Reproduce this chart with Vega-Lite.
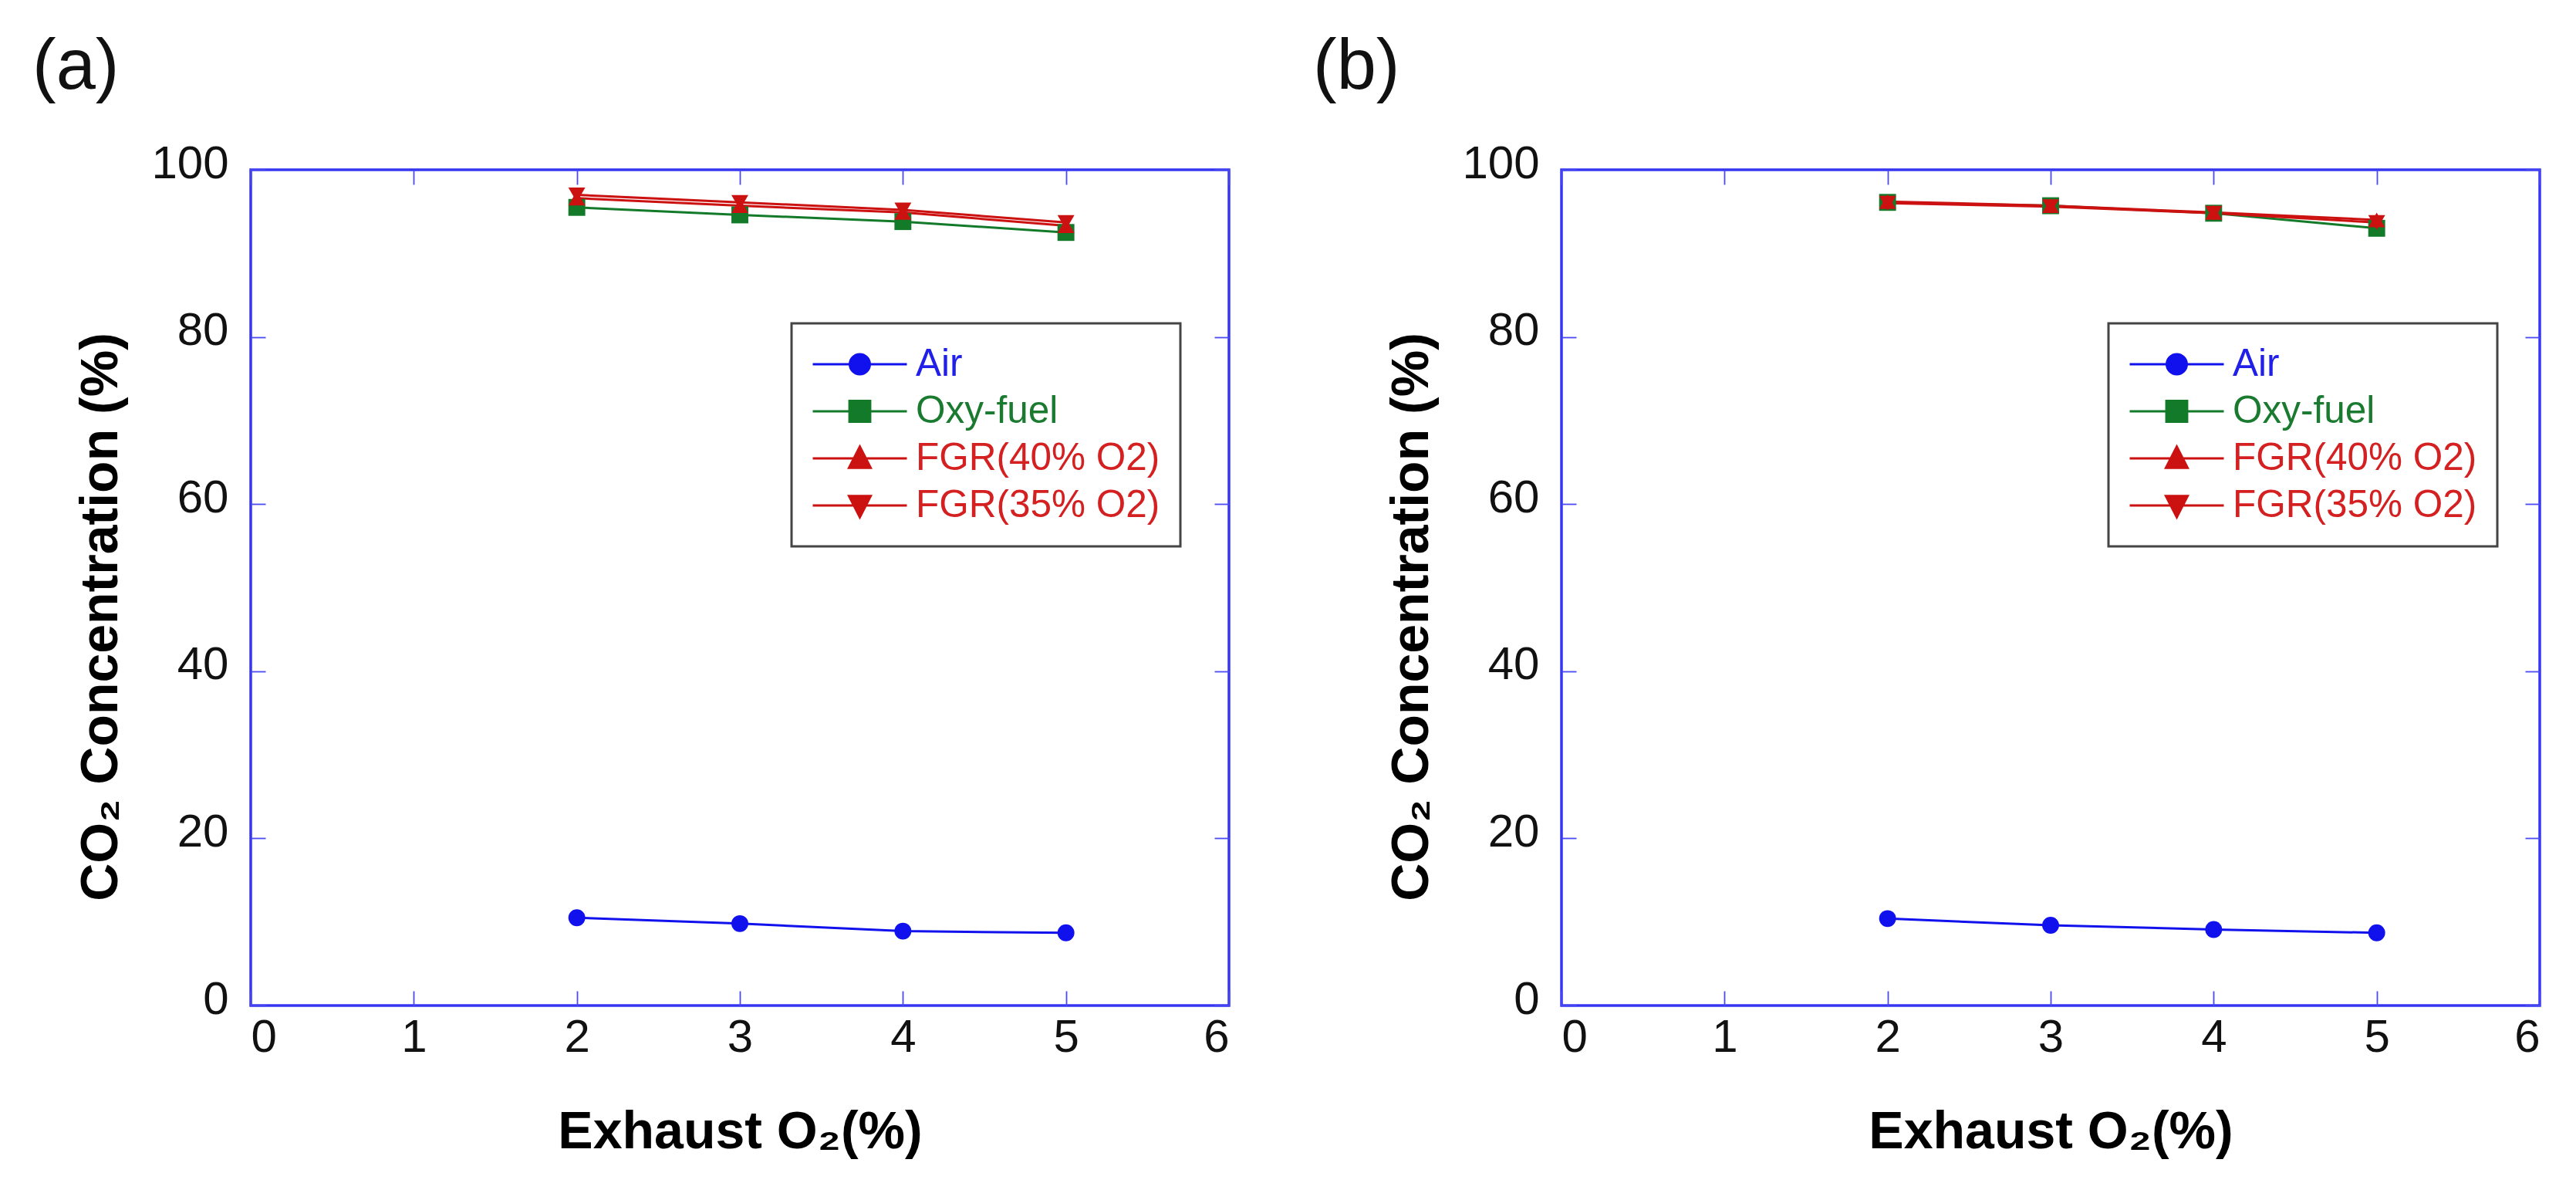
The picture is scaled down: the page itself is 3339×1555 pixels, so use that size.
{
  "$schema": "https://vega.github.io/schema/vega-lite/v6.json",
  "padding": {"left": 40, "top": 39, "right": 0, "bottom": 0},
  "config": {
    "font": "Liberation Sans",
    "view": {"stroke": "#3636f2", "strokeWidth": 3.5},
    "axis": {
      "grid": false,
      "domain": false,
      "tickColor": "#4a4af2",
      "tickWidth": 1.8,
      "tickSize": -19,
      "labelFont": "Liberation Sans",
      "labelFontSize": 60,
      "labelColor": "#111111",
      "titleFont": "Liberation Sans",
      "titleFontSize": 68,
      "titleFontWeight": "bold",
      "titleColor": "#000000"
    },
    "title": {"fontSize": 92, "fontWeight": "normal", "color": "#111111", "anchor": "start", "frame": "group"},
    "point": {"filled": true, "size": 480, "opacity": 1},
    "legend": {
      "orient": "none",
      "title": null,
      "strokeColor": "#444444",
      "strokeWidth": 3,
      "padding": 26,
      "labelFont": "Liberation Sans",
      "labelFontSize": 49.5,
      "labelLimit": 0,
      "labelOffset": 10,
      "rowPadding": 7,
      "clipHeight": 54,
      "symbolSize": 14884,
      "symbolStrokeWidth": 3
    }
  },
  "datasets": {
    "a": [
      {"series": "Air", "o2": 2, "co2": 10.5},
      {"series": "Air", "o2": 3, "co2": 9.8},
      {"series": "Air", "o2": 4, "co2": 8.9},
      {"series": "Air", "o2": 5, "co2": 8.7},
      {"series": "Oxy-fuel", "o2": 2, "co2": 95.5},
      {"series": "Oxy-fuel", "o2": 3, "co2": 94.6},
      {"series": "Oxy-fuel", "o2": 4, "co2": 93.8},
      {"series": "Oxy-fuel", "o2": 5, "co2": 92.5},
      {"series": "FGR(40% O2)", "o2": 2, "co2": 96.6},
      {"series": "FGR(40% O2)", "o2": 3, "co2": 95.7},
      {"series": "FGR(40% O2)", "o2": 4, "co2": 94.9},
      {"series": "FGR(40% O2)", "o2": 5, "co2": 93.3},
      {"series": "FGR(35% O2)", "o2": 2, "co2": 97.0},
      {"series": "FGR(35% O2)", "o2": 3, "co2": 96.1},
      {"series": "FGR(35% O2)", "o2": 4, "co2": 95.2},
      {"series": "FGR(35% O2)", "o2": 5, "co2": 93.7}
    ],
    "b": [
      {"series": "Air", "o2": 2, "co2": 10.4},
      {"series": "Air", "o2": 3, "co2": 9.6},
      {"series": "Air", "o2": 4, "co2": 9.1},
      {"series": "Air", "o2": 5, "co2": 8.7},
      {"series": "Oxy-fuel", "o2": 2, "co2": 96.1},
      {"series": "Oxy-fuel", "o2": 3, "co2": 95.7},
      {"series": "Oxy-fuel", "o2": 4, "co2": 94.8},
      {"series": "Oxy-fuel", "o2": 5, "co2": 93.0},
      {"series": "FGR(40% O2)", "o2": 2, "co2": 96.2},
      {"series": "FGR(40% O2)", "o2": 3, "co2": 95.7},
      {"series": "FGR(40% O2)", "o2": 4, "co2": 94.9},
      {"series": "FGR(40% O2)", "o2": 5, "co2": 94.0},
      {"series": "FGR(35% O2)", "o2": 2, "co2": 96.0},
      {"series": "FGR(35% O2)", "o2": 3, "co2": 95.6},
      {"series": "FGR(35% O2)", "o2": 4, "co2": 94.8},
      {"series": "FGR(35% O2)", "o2": 5, "co2": 93.7}
    ]
  },
  "spacing": 104,
  "resolve": {"legend": {"color": "independent", "shape": "independent"}},
  "hconcat": [
    {
      "title": {"text": "(a)", "dx": -283, "offset": 48},
      "width": 1268,
      "height": 1083,
      "data": {"name": "a"},
      "resolve": {"axis": {"x": "independent", "y": "independent"}},
      "layer": [
        {
          "mark": {"type": "line", "strokeWidth": 3},
          "encoding": {
            "x": {"field": "o2", "type": "quantitative", "scale": {"domain": [0, 6]},
              "axis": {"orient": "bottom", "values": [0, 1, 2, 3, 4, 5, 6], "title": "Exhaust O₂(%)", "labelPadding": 31, "titlePadding": 59}},
            "y": {"field": "co2", "type": "quantitative", "scale": {"domain": [0, 100]},
              "axis": {"orient": "left", "values": [0, 20, 40, 60, 80, 100], "title": "CO₂ Concentration (%)", "labelPadding": 48, "labelOffset": -8, "titleX": -160, "titleY": 579}},
            "color": {"field": "series", "type": "nominal",
              "scale": {"domain": ["Air", "Oxy-fuel", "FGR(40% O2)", "FGR(35% O2)"], "range": ["#1111ee", "#137a2a", "#cc1111", "#cc1111"]},
              "legend": {
                "legendX": 701, "legendY": 199,
                "encode": {
                  "symbols": {"update": {
                    "stroke": {"signal": "datum.value === 'Air' ? '#2a2af0' : datum.value === 'Oxy-fuel' ? '#2e8040' : '#d42020'"},
                    "strokeWidth": {"value": 3},
                    "opacity": {"value": 1}
                  }},
                  "labels": {"update": {"fill": {"signal": "datum.value === 'Air' ? '#2020e8' : datum.value === 'Oxy-fuel' ? '#1a7a30' : '#d42020'"}}}
                }
              }}
          }
        },
        {
          "transform": [{"filter": "datum.series === 'Air'"}],
          "mark": {"type": "point", "shape": "circle"},
          "encoding": {
            "x": {"field": "o2", "type": "quantitative", "axis": {"orient": "top", "values": [0, 1, 2, 3, 4, 5, 6], "labels": false, "title": null}},
            "y": {"field": "co2", "type": "quantitative", "axis": {"orient": "right", "values": [0, 20, 40, 60, 80, 100], "labels": false, "title": null}},
            "color": {"field": "series", "type": "nominal"}
          }
        },
        {
          "transform": [{"filter": "datum.series === 'Oxy-fuel'"}],
          "mark": {"type": "point", "shape": "square"},
          "encoding": {
            "x": {"field": "o2", "type": "quantitative", "axis": null},
            "y": {"field": "co2", "type": "quantitative", "axis": null},
            "color": {"field": "series", "type": "nominal"}
          }
        },
        {
          "transform": [{"filter": "datum.series === 'FGR(40% O2)'"}],
          "mark": {"type": "point", "shape": "triangle-up"},
          "encoding": {
            "x": {"field": "o2", "type": "quantitative", "axis": null},
            "y": {"field": "co2", "type": "quantitative", "axis": null},
            "color": {"field": "series", "type": "nominal"}
          }
        },
        {
          "transform": [{"filter": "datum.series === 'FGR(35% O2)'"}],
          "mark": {"type": "point", "shape": "triangle-down"},
          "encoding": {
            "x": {"field": "o2", "type": "quantitative", "axis": null},
            "y": {"field": "co2", "type": "quantitative", "axis": null},
            "color": {"field": "series", "type": "nominal"}
          }
        },
        {
          "transform": [{"filter": "datum.o2 > 100"}],
          "mark": {"type": "point"},
          "encoding": {
            "x": {"field": "o2", "type": "quantitative", "axis": null},
            "y": {"field": "co2", "type": "quantitative", "axis": null},
            "color": {"field": "series", "type": "nominal"},
            "shape": {"field": "series", "type": "nominal",
              "scale": {"domain": ["Air", "Oxy-fuel", "FGR(40% O2)", "FGR(35% O2)"],
                "range": ["M-1,0H1M-0.213,0A0.213,0.213 0 1,0 0.213,0A0.213,0.213 0 1,0 -0.213,0Z", "M-1,0H1M-0.22,-0.22H0.22V0.22H-0.22Z", "M-1,0H1M0,-0.25L0.23,0.2H-0.23Z", "M-1,0H1M0,0.25L0.23,-0.2H-0.23Z"]}}
          }
        }
      ]
    },
    {
      "title": {"text": "(b)", "dx": -322, "offset": 48},
      "width": 1268,
      "height": 1083,
      "data": {"name": "b"},
      "resolve": {"axis": {"x": "independent", "y": "independent"}},
      "layer": [
        {
          "mark": {"type": "line", "strokeWidth": 3},
          "encoding": {
            "x": {"field": "o2", "type": "quantitative", "scale": {"domain": [0, 6]},
              "axis": {"orient": "bottom", "values": [0, 1, 2, 3, 4, 5, 6], "title": "Exhaust O₂(%)", "labelPadding": 31, "titlePadding": 59}},
            "y": {"field": "co2", "type": "quantitative", "scale": {"domain": [0, 100]},
              "axis": {"orient": "left", "values": [0, 20, 40, 60, 80, 100], "title": "CO₂ Concentration (%)", "labelPadding": 48, "labelOffset": -8, "titleX": -160, "titleY": 579}},
            "color": {"field": "series", "type": "nominal",
              "scale": {"domain": ["Air", "Oxy-fuel", "FGR(40% O2)", "FGR(35% O2)"], "range": ["#1111ee", "#137a2a", "#cc1111", "#cc1111"]},
              "legend": {
                "legendX": 709, "legendY": 199,
                "encode": {
                  "symbols": {"update": {
                    "stroke": {"signal": "datum.value === 'Air' ? '#2a2af0' : datum.value === 'Oxy-fuel' ? '#2e8040' : '#d42020'"},
                    "strokeWidth": {"value": 3},
                    "opacity": {"value": 1}
                  }},
                  "labels": {"update": {"fill": {"signal": "datum.value === 'Air' ? '#2020e8' : datum.value === 'Oxy-fuel' ? '#1a7a30' : '#d42020'"}}}
                }
              }}
          }
        },
        {
          "transform": [{"filter": "datum.series === 'Air'"}],
          "mark": {"type": "point", "shape": "circle"},
          "encoding": {
            "x": {"field": "o2", "type": "quantitative", "axis": {"orient": "top", "values": [0, 1, 2, 3, 4, 5, 6], "labels": false, "title": null}},
            "y": {"field": "co2", "type": "quantitative", "axis": {"orient": "right", "values": [0, 20, 40, 60, 80, 100], "labels": false, "title": null}},
            "color": {"field": "series", "type": "nominal"}
          }
        },
        {
          "transform": [{"filter": "datum.series === 'Oxy-fuel'"}],
          "mark": {"type": "point", "shape": "square"},
          "encoding": {
            "x": {"field": "o2", "type": "quantitative", "axis": null},
            "y": {"field": "co2", "type": "quantitative", "axis": null},
            "color": {"field": "series", "type": "nominal"}
          }
        },
        {
          "transform": [{"filter": "datum.series === 'FGR(40% O2)'"}],
          "mark": {"type": "point", "shape": "triangle-up"},
          "encoding": {
            "x": {"field": "o2", "type": "quantitative", "axis": null},
            "y": {"field": "co2", "type": "quantitative", "axis": null},
            "color": {"field": "series", "type": "nominal"}
          }
        },
        {
          "transform": [{"filter": "datum.series === 'FGR(35% O2)'"}],
          "mark": {"type": "point", "shape": "triangle-down"},
          "encoding": {
            "x": {"field": "o2", "type": "quantitative", "axis": null},
            "y": {"field": "co2", "type": "quantitative", "axis": null},
            "color": {"field": "series", "type": "nominal"}
          }
        },
        {
          "transform": [{"filter": "datum.o2 > 100"}],
          "mark": {"type": "point"},
          "encoding": {
            "x": {"field": "o2", "type": "quantitative", "axis": null},
            "y": {"field": "co2", "type": "quantitative", "axis": null},
            "color": {"field": "series", "type": "nominal"},
            "shape": {"field": "series", "type": "nominal",
              "scale": {"domain": ["Air", "Oxy-fuel", "FGR(40% O2)", "FGR(35% O2)"],
                "range": ["M-1,0H1M-0.213,0A0.213,0.213 0 1,0 0.213,0A0.213,0.213 0 1,0 -0.213,0Z", "M-1,0H1M-0.22,-0.22H0.22V0.22H-0.22Z", "M-1,0H1M0,-0.25L0.23,0.2H-0.23Z", "M-1,0H1M0,0.25L0.23,-0.2H-0.23Z"]}}
          }
        }
      ]
    }
  ]
}
